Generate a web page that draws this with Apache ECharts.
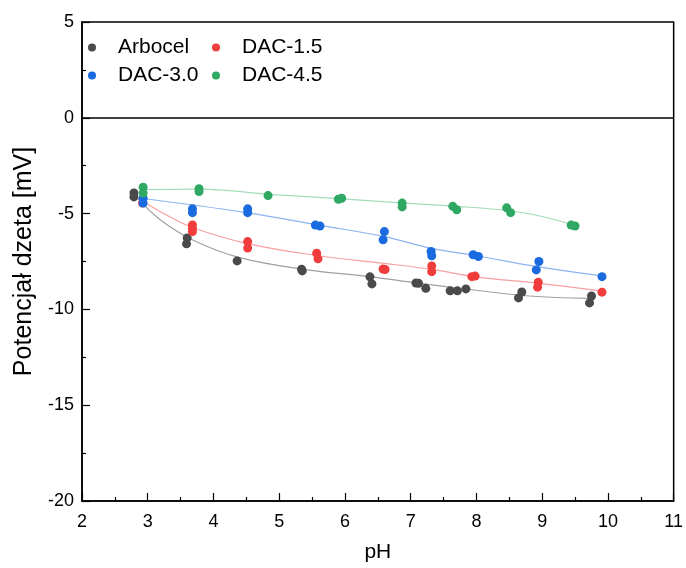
<!DOCTYPE html>
<html>
<head>
<meta charset="utf-8">
<script src="https://cdn.jsdelivr.net/npm/echarts@6/dist/echarts.min.js"></script>
<style>html,body{margin:0;padding:0;background:#fff;}#c{width:686px;height:568px;}</style>
</head>
<body>
<div id="c"></div>
<script>
var seriesNames = ['Arbocel', 'DAC-1.5', 'DAC-3.0', 'DAC-4.5'];
var xTicks = [2, 3, 4, 5, 6, 7, 8, 9, 10, 11];
var yTicks = [-20, -15, -10, -5, 0, 5];

var arbocelPts = [[2.79,-3.92],[2.79,-4.13],[3.60,-6.27],[3.59,-6.58],[4.36,-7.47],[5.34,-7.90],[5.35,-7.99],
  [6.38,-8.30],[6.41,-8.67],[7.08,-8.62],[7.12,-8.64],[7.23,-8.90],[7.60,-9.03],[7.71,-9.03],[7.84,-8.93],
  [8.64,-9.40],[8.69,-9.09],[9.75,-9.30],[9.72,-9.66]];
var dac15Pts = [[2.92,-4.45],[3.68,-5.59],[3.68,-5.77],[3.68,-5.94],[4.52,-6.46],[4.52,-6.80],[5.57,-7.07],[5.59,-7.36],
  [6.58,-7.89],[6.61,-7.92],[7.32,-7.73],[7.32,-8.03],[7.93,-8.29],[7.98,-8.26],[8.94,-8.58],[8.93,-8.84],[9.91,-9.10]];
var dac30Pts = [[2.93,-4.20],[2.93,-4.45],[3.68,-4.75],[3.68,-4.95],[4.52,-4.75],[4.52,-4.95],[5.55,-5.60],[5.62,-5.65],
  [6.60,-5.94],[6.58,-6.37],[7.31,-6.98],[7.32,-7.20],[7.95,-7.15],[8.03,-7.24],[8.95,-7.50],[8.91,-7.94],[9.91,-8.29]];
var dac45Pts = [[2.93,-3.62],[2.93,-3.93],[3.78,-3.70],[3.78,-3.85],[4.83,-4.06],[5.90,-4.25],[5.95,-4.20],
  [6.87,-4.45],[6.87,-4.65],[7.64,-4.62],[7.70,-4.80],[8.46,-4.70],[8.52,-4.95],[9.44,-5.60],[9.50,-5.65]];

var arbocelFit = [[2.79,-4.00],[3.2,-5.35],[3.7,-6.40],[4.4,-7.30],[5.4,-7.92],[6.4,-8.30],[7.0,-8.58],[8.0,-9.00],[8.8,-9.30],[9.72,-9.42]];
var dac15Fit = [[2.90,-4.30],[3.3,-5.10],[3.7,-5.75],[4.5,-6.55],[5.6,-7.20],[6.6,-7.60],[7.3,-7.90],[8.0,-8.30],[8.9,-8.62],[9.91,-9.05]];
var dac30Fit = [[2.90,-4.20],[4.5,-4.95],[5.6,-5.60],[6.6,-6.20],[7.3,-6.80],[8.0,-7.20],[8.9,-7.75],[9.91,-8.25]];
var dac45Fit = [[2.90,-3.75],[3.8,-3.72],[4.8,-3.98],[5.9,-4.22],[6.9,-4.45],[7.7,-4.62],[8.5,-4.85],[9.0,-5.15],[9.50,-5.62]];

var colors = ['#4a4a4a', '#f03c3c', '#1a6ae0', '#2ea863'];
var fitColors = ['#a0a0a0', '#f9a0a0', '#8cb4f0', '#a3dcb8'];
var ptSets = [arbocelPts, dac15Pts, dac30Pts, dac45Pts];
var fitSets = [arbocelFit, dac15Fit, dac30Fit, dac45Fit];

var FONT = 'Liberation Sans';
var series = [];
for (var i = 0; i < 4; i++) {
  series.push({
    name: seriesNames[i] + ' fit', type: 'line', data: fitSets[i], smooth: 0.4,
    showSymbol: false, symbol: 'none', silent: true, z: 1,
    lineStyle: { color: fitColors[i], width: 1.2 }
  });
}
for (var j = 0; j < 4; j++) {
  series.push({
    name: seriesNames[j], type: 'scatter', data: ptSets[j], symbol: 'circle', symbolSize: 9, z: 3,
    itemStyle: { color: colors[j], opacity: 1 }
  });
}
series[0].markLine = {
  silent: true, symbol: 'none', label: { show: false }, animation: false,
  lineStyle: { color: '#000', width: 1.5, type: 'solid' },
  data: [{ yAxis: 0 }]
};

function legendCfg(names, left) {
  return { data: names, orient: 'vertical', left: left, top: 32, itemWidth: 8, itemHeight: 8, itemGap: 7,
    icon: 'circle', selectedMode: false,
    textStyle: { fontFamily: FONT, fontSize: 21, color: '#000', padding: [0, 0, 0, 17] } };
}

var chart = echarts.init(document.getElementById('c'), null, { renderer: 'canvas' });
chart.setOption({
  animation: false,
  backgroundColor: '#fff',
  color: colors,
  grid: { left: 82, right: 11, top: 22, bottom: 67, show: true, borderColor: '#000', borderWidth: 1.5, backgroundColor: 'transparent' },
  legend: [legendCfg([seriesNames[0], seriesNames[2]], 83), legendCfg([seriesNames[1], seriesNames[3]], 207)],
  xAxis: {
    type: 'value', min: xTicks[0], max: xTicks[xTicks.length - 1], interval: 1,
    name: 'pH', nameLocation: 'middle', nameGap: 41,
    nameTextStyle: { fontFamily: FONT, fontSize: 21, color: '#000' },
    axisLine: { show: true, onZero: false, lineStyle: { color: '#000', width: 1.5 } },
    axisTick: { show: true, inside: true, length: 8, lineStyle: { color: '#000', width: 1.2 } },
    minorTick: { show: true, splitNumber: 2, length: 4, lineStyle: { color: '#000', width: 1.2 } },
    axisLabel: { fontFamily: FONT, fontSize: 18, color: '#000', margin: 12 },
    splitLine: { show: false }
  },
  yAxis: {
    type: 'value', min: yTicks[0], max: yTicks[yTicks.length - 1], interval: 5,
    name: 'Potencjał dzeta [mV]', nameLocation: 'middle', nameGap: 45,
    nameTextStyle: { fontFamily: FONT, fontSize: 25, color: '#000' },
    axisLine: { show: true, onZero: false, lineStyle: { color: '#000', width: 1.5 } },
    axisTick: { show: true, inside: true, length: 8, lineStyle: { color: '#000', width: 1.2 } },
    minorTick: { show: true, splitNumber: 2, length: 4, lineStyle: { color: '#000', width: 1.2 } },
    axisLabel: { fontFamily: FONT, fontSize: 18, color: '#000', margin: 8 },
    splitLine: { show: false }
  },
  series: series
});
</script>
</body>
</html>
